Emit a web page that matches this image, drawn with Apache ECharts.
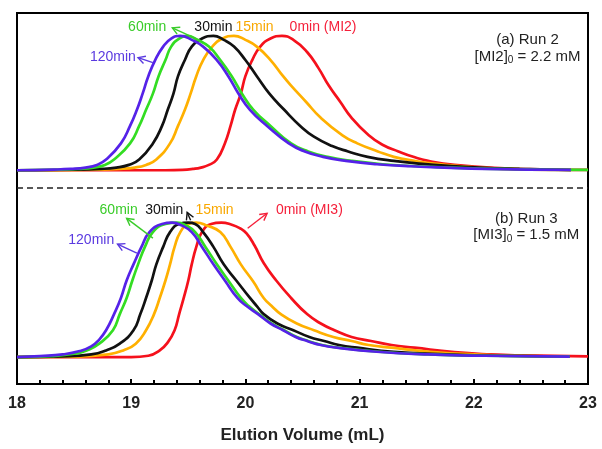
<!DOCTYPE html>
<html lang="en">
<head>
    <meta charset="UTF-8">
    <title>GPC traces</title>
    <script src="https://cdn.jsdelivr.net/npm/echarts@6/dist/echarts.min.js"></script>
    <style>
        html, body { margin: 0; padding: 0; background: #fff; }
        #chart1 { width: 602px; height: 449px; }
    </style>
</head>
<body>
<div id="chart1"></div>
<script type="text/javascript">
    // elution volume (mL) vs normalized RI intensity (% of peak)

    // (a) Run 2
    var run2_0min = [[18, 0], [19.3, 0], [19.45, 0.3], [19.54, 1], [19.61, 2], [19.68, 4], [19.75, 8], [19.82, 20], [19.87, 33], [19.91, 45], [19.96, 57], [20.0, 70], [20.06, 82], [20.13, 92], [20.22, 98], [20.32, 100], [20.42, 97], [20.54, 88], [20.64, 76], [20.73, 63], [20.83, 51], [20.93, 39], [21.08, 26], [21.2, 19], [21.34, 14], [21.47, 10], [21.6, 7], [21.83, 4], [22.27, 1.5], [22.7, 0.5], [23, 0.3]];
    var run2_15min = [[18, 0], [18.7, 0.4], [18.9, 1], [19.03, 2], [19.13, 4], [19.22, 8], [19.34, 20], [19.41, 33], [19.47, 45], [19.52, 57], [19.57, 70], [19.63, 82], [19.71, 92], [19.80, 98], [19.90, 100], [20.0, 97], [20.10, 92], [20.22, 82], [20.33, 70], [20.40, 63], [20.53, 51], [20.66, 39], [20.85, 26], [20.98, 20], [21.16, 14], [21.3, 10], [21.48, 7], [21.65, 5], [22.05, 2], [22.5, 0.5], [22.85, 0.2]];
    var run2_30min = [[18, 0], [18.5, 0.4], [18.73, 1], [18.87, 2], [18.98, 4], [19.07, 8], [19.19, 20], [19.27, 33], [19.32, 45], [19.37, 57], [19.41, 70], [19.47, 82], [19.53, 92], [19.62, 98], [19.72, 100], [19.81, 97], [19.90, 92], [20.0, 82], [20.10, 70], [20.21, 57], [20.34, 45], [20.48, 33], [20.6, 25], [20.76, 18], [20.9, 14], [21.07, 10], [21.3, 7], [21.65, 4], [22.05, 2], [22.4, 1], [22.85, 0.2]];
    var run2_60min = [[18, 0], [18.38, 0.4], [18.54, 1], [18.67, 2], [18.77, 4], [18.85, 8], [18.99, 20], [19.07, 33], [19.13, 45], [19.19, 57], [19.24, 70], [19.30, 82], [19.35, 92], [19.42, 98], [19.49, 100], [19.58, 97], [19.68, 92], [19.78, 82], [19.88, 70], [19.97, 57], [20.07, 45], [20.22, 33], [20.40, 20], [20.55, 14], [20.72, 10], [20.93, 7], [21.2, 4.5], [21.5, 3], [22.2, 1], [23, 0.3]];
    var run2_120min = [[18, 0], [18.32, 0.5], [18.47, 1], [18.6, 2], [18.7, 4], [18.78, 8], [18.91, 20], [18.99, 33], [19.05, 45], [19.10, 57], [19.15, 70], [19.21, 82], [19.28, 92], [19.35, 98], [19.43, 100], [19.53, 97], [19.63, 92], [19.75, 82], [19.85, 70], [19.94, 57], [20.04, 45], [20.19, 33], [20.38, 20], [20.52, 14], [20.68, 10], [20.88, 7], [21.15, 4.5], [21.45, 3], [22.1, 1], [22.85, 0.3]];

    // (b) Run 3
    var run3_0min = [[18, 0], [19.0, 0], [19.15, 1], [19.25, 5], [19.32, 11], [19.38, 20], [19.42, 32], [19.46, 44], [19.5, 57], [19.53, 69], [19.57, 82], [19.62, 93], [19.7, 99], [19.79, 100], [19.88, 98.5], [19.95, 96], [20.01, 92], [20.08, 83], [20.16, 70], [20.27, 57], [20.40, 44], [20.54, 32], [20.66, 25], [20.78, 20], [20.93, 15], [21.10, 12], [21.28, 9], [21.48, 7], [21.83, 3.7], [22.15, 2], [22.42, 1.3], [23, 0.6]];
    var run3_15min = [[18, 0], [18.5, 0.3], [18.8, 2], [18.93, 5], [19.04, 10], [19.13, 20], [19.2, 32], [19.25, 44], [19.3, 57], [19.34, 69], [19.38, 82], [19.43, 93], [19.5, 99], [19.57, 100], [19.66, 98], [19.78, 93], [19.87, 82], [19.96, 69], [20.07, 56], [20.16, 44], [20.23, 38], [20.31, 32], [20.45, 25], [20.60, 20], [20.77, 15], [20.93, 12], [21.08, 9], [21.28, 7], [21.62, 4], [22.0, 2], [22.4, 1], [22.84, 0.4]];
    var run3_30min = [[18, 0], [18.4, 0.5], [18.65, 2], [18.78, 5], [18.9, 10], [19.02, 20], [19.08, 32], [19.13, 44], [19.18, 57], [19.22, 69], [19.28, 82], [19.34, 93], [19.42, 99], [19.5, 100], [19.56, 99], [19.63, 93], [19.72, 82], [19.81, 69], [19.92, 57], [20.04, 44], [20.1, 38], [20.16, 32], [20.28, 25], [20.42, 20], [20.56, 15], [20.69, 12], [20.82, 9], [20.98, 7], [21.3, 4], [21.75, 2], [22.2, 1], [22.84, 0.3]];
    var run3_60min = [[18, 0], [18.3, 0.8], [18.5, 2.5], [18.61, 5], [18.72, 10], [18.84, 20], [18.9, 32], [18.96, 44], [19.01, 57], [19.06, 69], [19.12, 82], [19.19, 93], [19.3, 99], [19.40, 100], [19.48, 98], [19.56, 93], [19.65, 82], [19.75, 69], [19.85, 57], [19.96, 44], [20.03, 38], [20.12, 32], [20.23, 25], [20.34, 20], [20.45, 15], [20.55, 12], [20.67, 9], [20.82, 7], [21.17, 4], [21.6, 2], [22.1, 1], [22.84, 0.3]];
    var run3_120min = [[18, 0], [18.2, 0.8], [18.4, 2], [18.55, 4.5], [18.65, 8], [18.72, 13], [18.78, 20], [18.85, 32], [18.91, 44], [18.96, 57], [19.02, 69], [19.09, 82], [19.16, 93], [19.27, 99], [19.36, 100], [19.44, 98], [19.53, 93], [19.62, 82], [19.72, 69], [19.82, 57], [19.93, 44], [20.01, 38], [20.11, 32], [20.22, 25], [20.33, 20], [20.44, 15], [20.54, 12], [20.66, 9], [20.8, 7], [21.15, 4], [21.6, 2], [22.1, 1], [22.84, 0.3]];

    var xTicks = [18, 19, 20, 21, 22, 23];

    // both panels share one y scale; each trace sits on its panel's baseline
    var topBase = 159, bottomBase = 20, dashY = 146, yMax = 276;

    var colors = {red: '#f5111c', orange: '#ffb000', black: '#111111', green: '#33dd22', blue: '#5522e8'};
    var textColors = {red: '#f5203a', orange: '#f9a800', black: '#111111', green: '#3acc2a', blue: '#5a3ae0'};

    var traces = [
        [run2_0min, 'red', topBase], [run2_15min, 'orange', topBase], [run2_30min, 'black', topBase],
        [run2_60min, 'green', topBase], [run2_120min, 'blue', topBase],
        [run3_0min, 'red', bottomBase], [run3_15min, 'orange', bottomBase], [run3_30min, 'black', bottomBase],
        [run3_60min, 'green', bottomBase], [run3_120min, 'blue', bottomBase]
    ];

    // annotations, in data coordinates
    var labels = [
        ['60min', 19.14, 265.7, 'green'], ['30min', 19.72, 265.7, 'black'], ['15min', 20.08, 265.7, 'orange'],
        ['0min (MI2)', 20.68, 265.7, 'red'], ['120min', 18.84, 243.5, 'blue'],
        ['60min', 18.89, 129.2, 'green'], ['30min', 19.29, 129.2, 'black'], ['15min', 19.73, 129.2, 'orange'],
        ['0min (MI3)', 20.56, 129.2, 'red'], ['120min', 18.65, 107, 'blue']
    ];
    var arrows = [
        [19.63, 254.6, 19.36, 265, 'green'], [19.19, 239.1, 19.06, 242.8, 'blue'],
        [19.19, 108.5, 18.96, 123.2, 'green'], [19.52, 121.8, 19.49, 127.7, 'black'],
        [20.02, 115.9, 20.19, 127, 'red'], [19.05, 97.4, 18.88, 104, 'blue']
    ];
    var runNotes = [
        ['(a) Run 2', '[MI2]', '= 2.2 mM', 22.47, 256.1, 243.5],
        ['(b) Run 3', '[MI3]', '= 1.5 mM', 22.46, 123.2, 110.7]
    ];

    var series = traces.map(function (t, i) {
        return {
            type: 'line',
            data: t[0].map(function (p) { return [p[0], p[1] + t[2]]; }),
            smooth: 0.5,
            showSymbol: false,
            silent: true,
            z: 2 + i,
            lineStyle: {color: colors[t[1]], width: 2.7}
        };
    });
    series[0].markLine = {
        silent: true,
        symbol: ['none', 'none'],
        label: {show: false},
        lineStyle: {color: '#222', type: [6, 4], width: 1.5},
        data: [{yAxis: dashY}]
    };

    var myChart1 = echarts.init(document.getElementById('chart1'));
    myChart1.setOption({
        animation: false,
        backgroundColor: '#fff',
        grid: {left: 17, right: 14, top: 13, bottom: 62, show: true, borderColor: '#000', borderWidth: 2},
        xAxis: {
            type: 'value',
            min: 18,
            max: 23,
            interval: 1,
            name: 'Elution Volume (mL)',
            nameLocation: 'middle',
            nameGap: 43,
            nameTextStyle: {fontFamily: 'Liberation Sans', fontWeight: 'bold', fontSize: 17, color: '#222'},
            axisLine: {lineStyle: {color: '#000', width: 2}},
            axisTick: {inside: true, length: 5, lineStyle: {color: '#000', width: 2}},
            minorTick: {show: true, splitNumber: 5, length: 4, lineStyle: {color: '#000', width: 2}},
            splitLine: {show: false},
            axisLabel: {
                margin: 12,
                fontFamily: 'Liberation Sans', fontWeight: 'bold', fontSize: 16, color: '#222',
                formatter: function (v) { return xTicks.indexOf(v) >= 0 ? String(v) : ''; }
            }
        },
        yAxis: {
            type: 'value', min: 0, max: yMax,
            axisLine: {show: false}, axisTick: {show: false}, axisLabel: {show: false}, splitLine: {show: false}
        },
        series: series
    });

    // place text and arrows through the chart's scales
    var px = function (x, y) { return myChart1.convertToPixel({gridIndex: 0}, [x, y]); };
    var graphics = [];
    labels.forEach(function (l) {
        var p = px(l[1], l[2]);
        graphics.push({
            type: 'text', x: p[0], y: p[1], z: 50,
            style: {text: l[0], fill: textColors[l[3]], font: '14px "Liberation Sans"', align: 'center', verticalAlign: 'middle'}
        });
    });
    arrows.forEach(function (a) {
        var s = px(a[0], a[1]), e = px(a[2], a[3]);
        var ang = Math.atan2(e[1] - s[1], e[0] - s[0]);
        var h = 8, w = 0.5;
        var h1 = [e[0] - h * Math.cos(ang - w), e[1] - h * Math.sin(ang - w)];
        var h2 = [e[0] - h * Math.cos(ang + w), e[1] - h * Math.sin(ang + w)];
        graphics.push({type: 'polyline', z: 50, shape: {points: [s, e]}, style: {stroke: textColors[a[4]], lineWidth: 1.4, fill: null}});
        graphics.push({type: 'polyline', z: 50, shape: {points: [h1, e, h2]}, style: {stroke: textColors[a[4]], lineWidth: 1.4, fill: null}});
    });
    runNotes.forEach(function (n) {
        var p1 = px(n[3], n[4]), p2 = px(n[3], n[5]);
        graphics.push({
            type: 'text', x: p1[0], y: p1[1], z: 50,
            style: {text: n[0], fill: '#222', font: '15px "Liberation Sans"', align: 'center', verticalAlign: 'middle'}
        });
        graphics.push({
            type: 'text', x: p2[0], y: p2[1], z: 50,
            style: {
                text: '{a|' + n[1] + '}{s|0}{a| ' + n[2] + '}',
                align: 'center', verticalAlign: 'middle',
                rich: {
                    a: {fill: '#222', font: '15px "Liberation Sans"', verticalAlign: 'middle'},
                    s: {fill: '#222', font: '10px "Liberation Sans"', padding: [8, 0, 0, 0]}
                }
            }
        });
    });
    myChart1.setOption({graphic: graphics});
</script>
</body>
</html>
